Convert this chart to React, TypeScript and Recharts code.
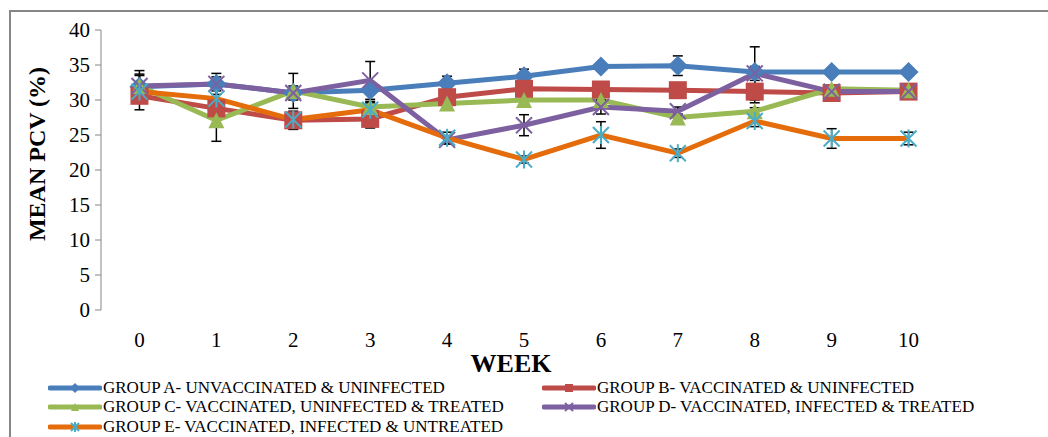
import { LineChart, Line, XAxis, YAxis, ErrorBar } from 'recharts';

const weeks = [0, 1, 2, 3, 4, 5, 6, 7, 8, 9, 10];
const groupA = [31.9, 32.3, 31.0, 31.4, 32.4, 33.4, 34.8, 34.9, 34.0, 34.0, 34.0];
const groupB = [30.6, 28.8, 27.1, 27.3, 30.4, 31.6, 31.5, 31.4, 31.2, 31.0, 31.2];
const groupC = [32.0, 27.1, 31.3, 29.0, 29.5, 30.0, 30.0, 27.5, 28.4, 31.6, 31.4];
const groupD = [32.0, 32.3, 31.0, 32.8, 24.3, 26.4, 29.0, 28.4, 33.8, 31.2, 31.2];
const groupE = [31.2, 30.2, 27.2, 28.6, 24.6, 21.5, 25.0, 22.4, 27.0, 24.5, 24.5];

const errA = [2.3, 1.5, 0.5, 0.5, 1.0, 1.0, 0.5, 1.4, 0.8, 0.5, 0.5];
const errB = [2.0, 1.0, 1.3, 1.3, 0.5, 0.5, 0.5, 0.5, 1.6, 0.5, 0.5];
const errC = [1.7, 3.0, 2.5, 0.8, 0.5, 0.5, 0.5, 0.5, 0.5, 0.5, 0.5];
const errD = [1.5, 1.0, 1.0, 2.7, 0.6, 1.5, 1.0, 0.6, 3.8, 0.6, 0.6];
const errE = [1.0, 1.5, 1.0, 1.0, 0.8, 0.5, 1.9, 0.6, 0.8, 1.4, 0.9];

const yTicks = [0, 5, 10, 15, 20, 25, 30, 35, 40];
const weekEdges = [...weeks.map((w) => w - 0.5), weeks[weeks.length - 1] + 0.5];

const labels = {
  a: 'GROUP A- UNVACCINATED & UNINFECTED',
  b: 'GROUP B- VACCINATED & UNINFECTED',
  c: 'GROUP C- VACCINATED, UNINFECTED & TREATED',
  d: 'GROUP D- VACCINATED, INFECTED & TREATED',
  e: 'GROUP E- VACCINATED, INFECTED & UNTREATED',
};

const data = weeks.map((w, i) => ({
  week: w,
  a: groupA[i], b: groupB[i], c: groupC[i], d: groupD[i], e: groupE[i],
  ea: errA[i], eb: errB[i], ec: errC[i], ed: errD[i], ee: errE[i],
}));

const colors = { a: '#4a7ebb', b: '#be4b48', c: '#98b954', d: '#7d60a0', e: '#e46c0a' };
const FONT = 'Liberation Serif';
const GREY = '#868686';

type Shape = 'diamond' | 'square' | 'triangle' | 'x' | 'star';

function Marker({ shape, cx, cy, s = 8 }: { shape: Shape; cx: number; cy: number; s?: number }) {
  if (shape === 'diamond')
    return <path d={`M${cx},${cy - s - 1}L${cx + s + 1},${cy}L${cx},${cy + s + 1}L${cx - s - 1},${cy}Z`} fill={colors.a} />;
  if (shape === 'square')
    return <rect x={cx - s} y={cy - s} width={2 * s} height={2 * s} fill={colors.b} />;
  if (shape === 'triangle')
    return <path d={`M${cx},${cy - s}L${cx + s},${cy + s}L${cx - s},${cy + s}Z`} fill={colors.c} />;
  if (shape === 'x')
    return (
      <g stroke={colors.d} strokeWidth={2}>
        <line x1={cx - s} y1={cy - s} x2={cx + s} y2={cy + s} />
        <line x1={cx - s} y1={cy + s} x2={cx + s} y2={cy - s} />
      </g>
    );
  return (
    <g stroke="#4bacc6" strokeWidth={2}>
      <line x1={cx - s} y1={cy - s} x2={cx + s} y2={cy + s} />
      <line x1={cx - s} y1={cy + s} x2={cx + s} y2={cy - s} />
      <line x1={cx} y1={cy - s - 1} x2={cx} y2={cy + s + 1} />
    </g>
  );
}

const dotFor = (shape: Shape) => (p: any) => (
  <Marker key={`${shape}-${p.index}`} shape={shape} cx={p.cx} cy={p.cy}
          s={shape === 'square' || shape === 'diamond' ? 9 : 8} />
);

const tickStyle = { fontFamily: FONT, fontSize: 21, fill: '#000' };

const XTick = (p: any) => (
  <text x={p.x} y={p.y} dy={15} textAnchor="middle" style={tickStyle}>
    {p.payload.value}
  </text>
);

const YTick = (p: any) => (
  <text x={p.x} y={p.y} dy={7} textAnchor="end" style={tickStyle}>
    {p.payload.value}
  </text>
);

const series: { key: 'a' | 'b' | 'c' | 'd' | 'e'; shape: Shape }[] = [
  { key: 'a', shape: 'diamond' },
  { key: 'b', shape: 'square' },
  { key: 'c', shape: 'triangle' },
  { key: 'd', shape: 'x' },
  { key: 'e', shape: 'star' },
];

function LegendItem({ k, shape, left, top }: { k: keyof typeof labels; shape: Shape; left: number; top: number }) {
  return (
    <div style={{ position: 'absolute', left, top, display: 'flex', alignItems: 'center', whiteSpace: 'nowrap' }}>
      <svg width={54} height={14} style={{ display: 'block' }}>
        <line x1={2} y1={7} x2={52} y2={7} stroke={colors[k]} strokeWidth={5} strokeLinecap="round" />
        <Marker shape={shape} cx={27} cy={7} s={4} />
      </svg>
      <span style={{ fontFamily: FONT, fontSize: 17, color: '#000', lineHeight: '18px', marginLeft: 1 }}>{labels[k]}</span>
    </div>
  );
}

export default function App() {
  return (
    <div style={{ position: 'absolute', left: 0, top: 0, width: 1048, height: 437, background: '#fff',
                  overflow: 'hidden', fontFamily: FONT }}>
      <div style={{ position: 'absolute', left: 9, top: 10, width: 1045, height: 440, borderTop: `2px solid ${GREY}`, borderLeft: `2px solid ${GREY}` }} />
      <LineChart width={1048} height={437} data={data} margin={{ top: 30, right: 101, bottom: 87, left: 41 }}
                 style={{ position: 'absolute', left: 0, top: 0, fontFamily: FONT }}>
        <XAxis xAxisId="b" dataKey="week" type="number" domain={[-0.5, 10.5]} ticks={weekEdges}
               height={0} tickSize={6} tickFormatter={() => ''} stroke={GREY} />
        <XAxis xAxisId="w" dataKey="week" type="number" domain={[-0.5, 10.5]} ticks={weeks}
               height={40} axisLine={false} tickLine={false} tickSize={0} tickMargin={22} tick={XTick} />
        <YAxis domain={[0, 40]} ticks={yTicks} width={60} tickSize={6} tickMargin={5} stroke={GREY} tick={YTick} />
        {series.map((s) => (
          <Line key={s.key} xAxisId="w" type="linear" dataKey={s.key} stroke={colors[s.key]} strokeWidth={5}
                dot={dotFor(s.shape)} activeDot={false} isAnimationActive={false}>
            <ErrorBar dataKey={`e${s.key}`} direction="y" width={5} stroke="#000" strokeWidth={1.5} />
          </Line>
        ))}
      </LineChart>
      <div style={{ position: 'absolute', left: 37, top: 154, transform: 'translate(-50%, -50%) rotate(-90deg)',
                    fontWeight: 'bold', fontSize: 24, whiteSpace: 'nowrap' }}>MEAN PCV (%)</div>
      <div style={{ position: 'absolute', left: 511, top: 364, transform: 'translate(-50%, -50%)',
                    fontWeight: 'bold', fontSize: 26, lineHeight: '22px', whiteSpace: 'nowrap' }}>WEEK</div>
      <LegendItem k="a" shape="diamond" left={48} top={379} />
      <LegendItem k="b" shape="square" left={542} top={379} />
      <LegendItem k="c" shape="triangle" left={48} top={398} />
      <LegendItem k="d" shape="x" left={542} top={398} />
      <LegendItem k="e" shape="star" left={48} top={418} />
    </div>
  );
}
